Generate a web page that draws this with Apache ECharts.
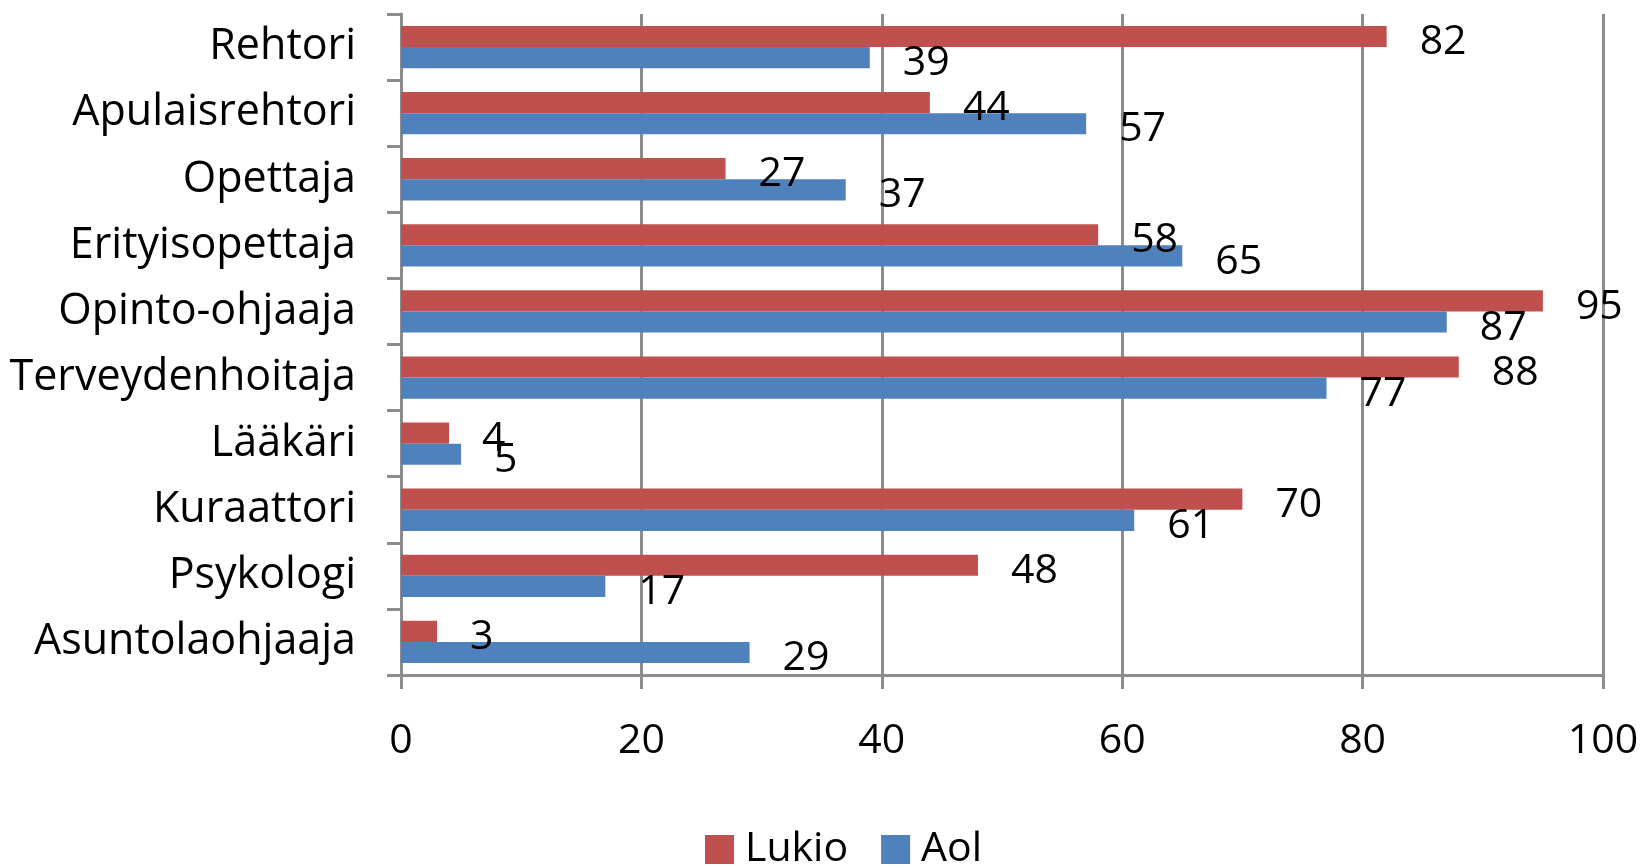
<!DOCTYPE html>
<html>
<head>
<meta charset="utf-8">
<script src="https://cdn.jsdelivr.net/npm/echarts@6/dist/echarts.min.js"></script>
<style>html,body{margin:0;padding:0;background:#fff}#c{width:1651px;height:868px}</style>
</head>
<body>
<div id="c"></div>
<script>
const categories = ['Rehtori','Apulaisrehtori','Opettaja','Erityisopettaja','Opinto-ohjaaja','Terveydenhoitaja','Lääkäri','Kuraattori','Psykologi','Asuntolaohjaaja'];
const lukio = [82,44,27,58,95,88,4,70,48,3];
const aol = [39,57,37,65,87,77,5,61,17,29];
const xTicks = [0,20,40,60,80,100];

const FONT = '"Open Sans"';
const FS = 41;
const chart = echarts.init(document.getElementById('c'));
const labelStyle = {show:true, position:'right', distance:33, offset:[0,6], color:'#000', fontFamily:FONT, fontSize:FS};
chart.setOption({
  animation:false,
  grid:{left:401, right:48, top:14, bottom:193, containLabel:false},
  legend:{
    data:['Lukio','Aol'], left:705, top:829, padding:0, itemWidth:29, itemHeight:29, itemGap:33,
    icon:'rect', textStyle:{fontFamily:FONT, fontSize:FS, color:'#000', lineHeight:30, padding:[10,0,0,6]}
  },
  xAxis:{
    type:'value', min:xTicks[0], max:xTicks[xTicks.length-1], interval:20,
    axisLine:{show:true, lineStyle:{color:'#8c8c8c', width:3}},
    axisTick:{show:true, length:14, lineStyle:{color:'#8c8c8c', width:3}},
    splitLine:{show:true, lineStyle:{color:'#8c8c8c', width:3}},
    axisLabel:{margin:46, color:'#000', fontFamily:FONT, fontSize:FS}
  },
  yAxis:{
    type:'category', data:categories, inverse:true,
    axisLine:{show:true, lineStyle:{color:'#8c8c8c', width:3}},
    axisTick:{show:true, length:14, interval:0, lineStyle:{color:'#8c8c8c', width:3}},
    axisLabel:{margin:45, color:'#000', fontFamily:FONT, fontSize:43, interval:0, padding:[4,0,0,0]}
  },
  series:[
    {name:'Lukio', type:'bar', data:lukio, barGap:'0%', barCategoryGap:'36%',
     itemStyle:{color:'#C0504D'}, label:labelStyle},
    {name:'Aol', type:'bar', data:aol, barGap:'0%', barCategoryGap:'36%',
     itemStyle:{color:'#4F81BD'}, label:labelStyle}
  ]
});
</script>
</body>
</html>
